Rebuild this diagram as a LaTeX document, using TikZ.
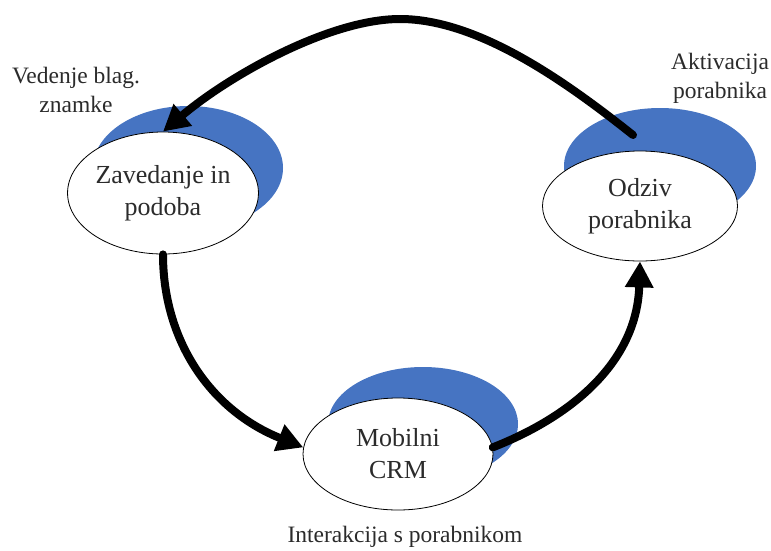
\documentclass[tikz,border=0pt]{standalone}
\usepackage{fontspec}
\setmainfont{Liberation Serif}
\usetikzlibrary{shapes.geometric,arrows.meta}
\definecolor{Crescent}{HTML}{4674C2}
\definecolor{Ink}{HTML}{2B2B2B}

\begin{document}
\begin{tikzpicture}[x=1pt,y=-1pt,
  every node/.style={text=Ink,align=center},
  stage/.style={ellipse,draw=black,line width=0.8pt,fill=white,minimum width=190pt,inner sep=0pt,font=\fontsize{26}{32}\selectfont},
  tag/.style={font=\fontsize{23.5}{29}\selectfont},
  flow/.style={line width=8pt,line cap=round,-{Triangle[length=26pt,width=27pt]}}]
\fill[white] (0,0) rectangle (771,550);
\useasboundingbox (0,0) rectangle (771,550);
\fill[Crescent] (188,168) ellipse [x radius=95pt,y radius=62pt];
\fill[Crescent] (660,166) ellipse [x radius=96pt,y radius=58pt];
\fill[Crescent] (423,424) ellipse [x radius=95pt,y radius=57pt];
\node[stage,minimum height=122pt] (zav) at (163,193) {Zavedanje in\\podoba};
\node[stage,minimum width=195pt,minimum height=110pt] (odz) at (640,206) {Odziv\\porabnika};
\node[stage,minimum height=112pt] (mob) at (398,454) {Mobilni\\CRM};
\node[tag] (ved) at (76,90) {Vedenje blag.\\znamke};
\node[tag] (akt) at (720,78) {Aktivacija\\porabnika};
\node[tag] (int) at (405,537) {Interakcija s porabnikom};
\coordinate (odzt) at (633,135);
\draw[flow] (odzt) .. controls (570,85) and (480,19) .. (400,19) .. controls (330,19) and (230,75) .. (zav.north);
\draw[flow] (zav.south) .. controls (163,340) and (210,410) .. (mob.176);
\draw[flow] (mob.4) .. controls (575,415) and (637,360) .. (odz.south);
\end{tikzpicture}
\end{document}
